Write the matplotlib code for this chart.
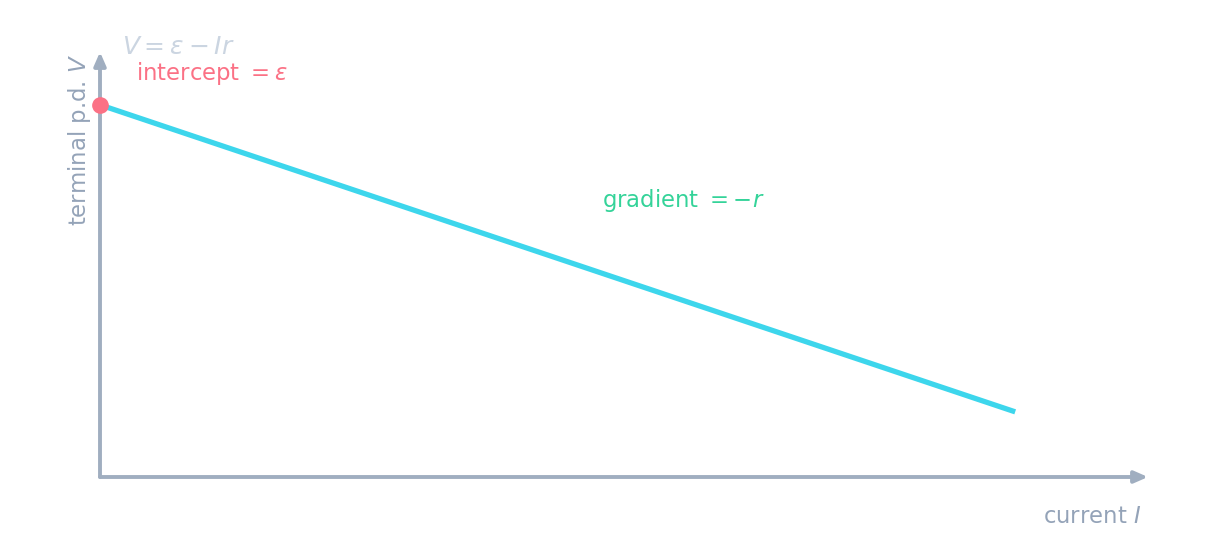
import numpy as np
import matplotlib
matplotlib.use('Agg')
import matplotlib.pyplot as plt

# cell: emf 10 V, internal resistance ~1 ohm
emf = 10.0
r_int = 1.006
current = np.array([0.0, 8.2])
voltage = emf - r_int * current

axis_col = '#a0aec0'
fig = plt.figure(figsize=(12.06, 5.46), dpi=100)
ax = fig.add_axes([100/1206, 69/546, 1048/1206, 425/546])
ax.set_xlim(0, 9.39)
ax.set_ylim(0, 11.42)
ax.axis('off')

# axes arrows
for tip in [(9.39, 0), (0, 11.42)]:
    ax.annotate('', xy=tip, xytext=(0, 0),
                arrowprops=dict(arrowstyle='-|>,head_length=0.8,head_width=0.35',
                                color=axis_col, lw=2.8, shrinkA=0, shrinkB=0),
                annotation_clip=False)

ax.plot(current, voltage, color='#3dd6ec', lw=3.8, solid_capstyle='butt', clip_on=False)
ax.plot([0], [emf], 'o', color='#fb7185', ms=11, clip_on=False, zorder=5)

ax.text(0.2, 11.55, r'$V = \varepsilon - Ir$', color='#cbd5e1', fontsize=18,
        ha='left', va='center')
ax.text(0.32, 10.83, r'intercept $=\varepsilon$', color='#fb7185', fontsize=16.4,
        ha='left', va='center')
ax.text(5.23, 7.43, r'gradient $=-r$', color='#34d399', fontsize=16.4,
        ha='center', va='center')
ax.text(9.33, -1.05, r'current $I$', color='#94a3b8', fontsize=16.4,
        ha='right', va='center')
ax.text(-0.18, 9.07, r'terminal p.d. $V$', color='#94a3b8', fontsize=16.4,
        ha='center', va='center', rotation=90)

fig.savefig('out.png', dpi=100)
